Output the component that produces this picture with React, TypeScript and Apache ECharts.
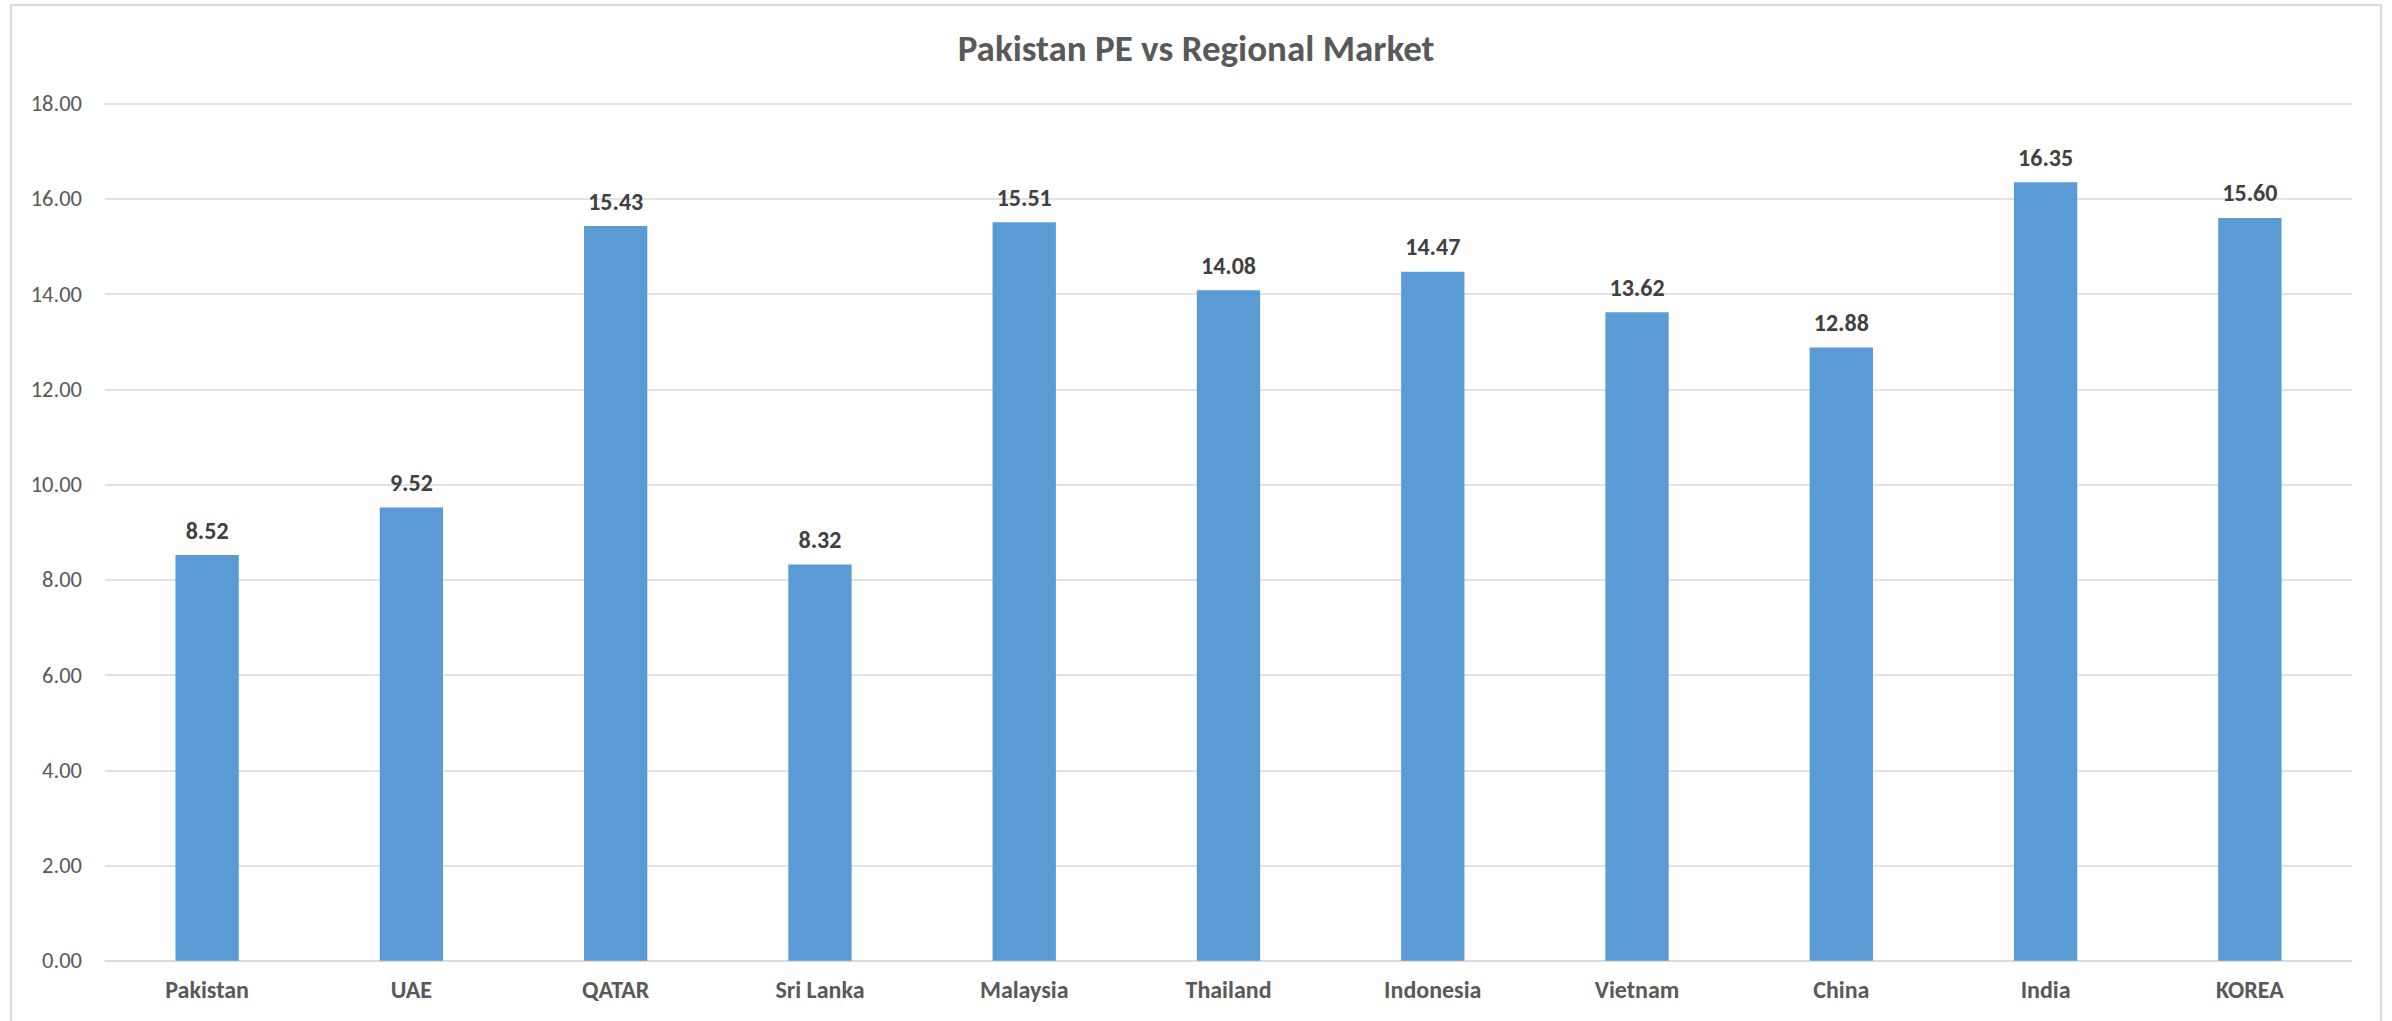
import React, { useEffect, useRef } from "react";
import * as echarts from "echarts";

const categories = ["Pakistan", "UAE", "QATAR", "Sri Lanka", "Malaysia", "Thailand", "Indonesia", "Vietnam", "China", "India", "KOREA"];
const peValues = [8.52, 9.52, 15.43, 8.32, 15.51, 14.08, 14.47, 13.62, 12.88, 16.35, 15.6];
const titleText = "Pakistan PE vs Regional Market";

const FONT = "Carlito, Calibri, Lato, 'Noto Sans', sans-serif";

export default function App() {
  const ref = useRef<HTMLDivElement>(null);
  useEffect(() => {
    if (!ref.current) return;
    const chart = echarts.init(ref.current, undefined, { renderer: "svg" });
    chart.setOption({
      animation: false,
      backgroundColor: "#ffffff",
      textStyle: { fontFamily: FONT },
      title: {
        text: titleText,
        left: "center",
        top: 25,
        textStyle: { fontFamily: FONT, fontSize: 37, fontWeight: "bold", color: "#595959" },
      },
      graphic: [
        {
          type: "rect",
          shape: { x: 11, y: 5, width: 2370, height: 1040 },
          style: { fill: "none", stroke: "#d9d9d9", lineWidth: 2 },
          silent: true,
        },
      ],
      grid: { left: 105, right: 40, top: 103.7, bottom: 60.3, containLabel: false },
      xAxis: {
        type: "category",
        data: categories,
        axisLine: { show: true, lineStyle: { color: "#d9d9d9", width: 1.5 } },
        axisTick: { show: false },
        axisLabel: { fontFamily: FONT, fontSize: 24, fontWeight: "bold", color: "#595959", margin: 17 },
      },
      yAxis: {
        type: "value",
        min: 0,
        max: 18,
        interval: 2,
        axisLine: { show: false },
        axisTick: { show: false },
        axisLabel: {
          fontFamily: FONT,
          fontSize: 22.5,
          color: "#595959",
          margin: 23,
          formatter: (v: number) => v.toFixed(2),
        },
        splitLine: { lineStyle: { color: "#d9d9d9", width: 1.5 } },
      },
      series: [
        {
          type: "bar",
          data: peValues,
          barWidth: "31%",
          itemStyle: { color: "#5b9bd5" },
          label: {
            show: true,
            position: "top",
            distance: 13,
            fontFamily: FONT,
            fontSize: 24,
            fontWeight: "bold",
            color: "#404040",
            formatter: (p: any) => Number(p.value).toFixed(2),
          },
        },
      ],
    });
    return () => chart.dispose();
  }, []);
  return <div ref={ref} style={{ position: "fixed", left: 0, top: 0, width: 2392, height: 1021 }} />;
}
